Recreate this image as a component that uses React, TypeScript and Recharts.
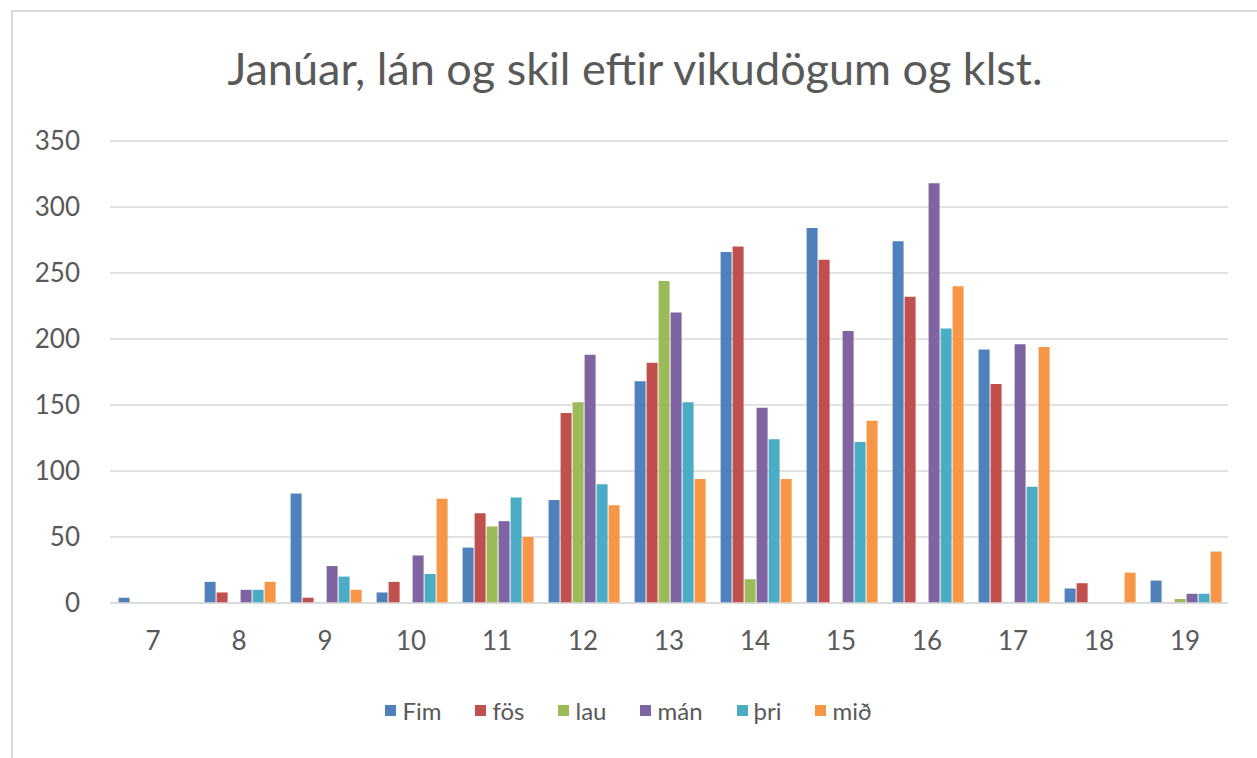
import React from 'react';
import { BarChart, Bar, CartesianGrid, XAxis, YAxis } from 'recharts';

const hours = ['7', '8', '9', '10', '11', '12', '13', '14', '15', '16', '17', '18', '19'];
const fim = [4, 16, 83, 8, 42, 78, 168, 266, 284, 274, 192, 11, 17];
const fos = [0, 8, 4, 16, 68, 144, 182, 270, 260, 232, 166, 15, 0];
const lau = [0, 0, 0, 0, 58, 152, 244, 18, 0, 0, 0, 0, 3];
const man = [0, 10, 28, 36, 62, 188, 220, 148, 206, 318, 196, 0, 7];
const thri = [0, 10, 20, 22, 80, 90, 152, 124, 122, 208, 88, 0, 7];
const mid = [0, 16, 10, 79, 50, 74, 94, 94, 138, 240, 194, 23, 39];
const yTicks = [0, 50, 100, 150, 200, 250, 300, 350];

const series = [
  { key: 'Fim', values: fim, color: '#4F81BD' },
  { key: 'fös', values: fos, color: '#C0504D' },
  { key: 'lau', values: lau, color: '#9BBB59' },
  { key: 'mán', values: man, color: '#8064A2' },
  { key: 'þri', values: thri, color: '#4BACC6' },
  { key: 'mið', values: mid, color: '#F79646' },
];

const data = hours.map((h, i) => {
  const row: { [k: string]: string | number | null } = { hour: h };
  series.forEach((s) => {
    row[s.key] = s.values[i] === 0 ? null : s.values[i];
  });
  return row;
});

const FONT = 'Lato, "Open Sans", sans-serif';
const TEXT = '#595959';

const LegendRow = () => (
  <div style={{ display: 'flex', justifyContent: 'center', gap: 34, fontFamily: FONT, fontSize: 24, color: TEXT }}>
    {series.map((s) => (
      <div key={s.key} style={{ display: 'flex', alignItems: 'center' }}>
        <span style={{ width: 11, height: 11, background: s.color, marginRight: 6, display: 'inline-block' }} />
        <span>{s.key}</span>
      </div>
    ))}
  </div>
);

const App: React.FC = () => {
  return (
    <div style={{ position: 'absolute', left: 0, top: 0, width: 1257, height: 758, overflow: 'hidden', background: '#fff' }}>
      <div style={{ position: 'absolute', left: 11, top: 10, width: 1300, height: 800, border: '2px solid #d9d9d9' }} />
      <div
        style={{
          position: 'absolute',
          left: 0,
          width: 1270,
          top: 40,
          textAlign: 'center',
          fontFamily: FONT,
          fontSize: 45,
          color: TEXT,
          lineHeight: '56px',
        }}
      >
        Janúar, lán og skil eftir vikudögum og klst.
      </div>
      <div style={{ position: 'absolute', left: 0, top: 0 }}>
        <BarChart
          width={1257}
          height={758}
          data={data}
          margin={{ top: 141, right: 29, bottom: 125, left: 0 }}
          barCategoryGap="10%"
          barGap={1}
        >
          <CartesianGrid vertical={false} stroke="#d9d9d9" strokeWidth={1.5} />
          <XAxis
            dataKey="hour"
            height={30}
            axisLine={{ stroke: '#d9d9d9', strokeWidth: 1.5 }}
            tickLine={false}
            tickSize={0}
            tickMargin={29}
            tick={{ fill: TEXT, fontSize: 26, fontFamily: FONT }}
            interval={0}
          />
          <YAxis
            width={110}
            domain={[0, 350]}
            ticks={yTicks}
            axisLine={false}
            tickLine={false}
            tickSize={0}
            tickMargin={30}
            tick={{ fill: TEXT, fontSize: 26, fontFamily: FONT }}
          />
          {series.map((s) => (
            <Bar key={s.key} dataKey={s.key} fill={s.color} isAnimationActive={false} />
          ))}
        </BarChart>
      </div>
      <div style={{ position: 'absolute', left: 0, width: 1257, top: 696 }}>
        <LegendRow />
      </div>
    </div>
  );
};

export default App;
